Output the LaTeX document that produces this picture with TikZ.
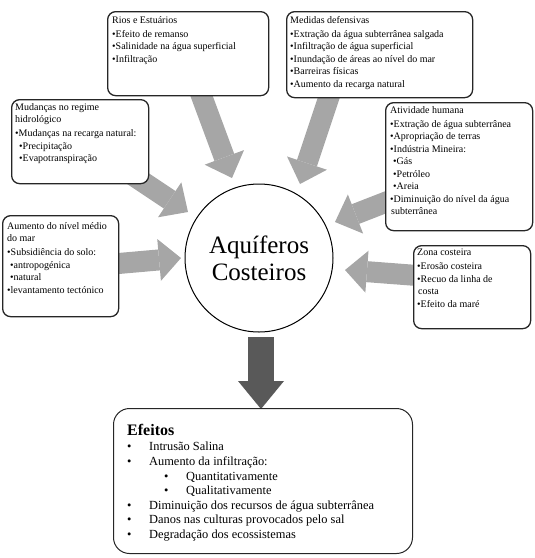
\documentclass[tikz,border=0pt]{standalone}
\usepackage{fontspec}
\setmainfont{Liberation Serif}
\usetikzlibrary{arrows.meta}
\definecolor{arrgray}{HTML}{A6A6A6}
\definecolor{darkarr}{HTML}{595959}
\definecolor{boxline}{HTML}{262626}
\newcommand\bul{\textbullet}
\begin{document}
\begin{tikzpicture}[x=1pt,y=-1pt,
  box/.style={draw=boxline, line width=1.3pt, rounded corners=8pt, fill=white, anchor=north west, inner sep=0pt},
  boxtext/.style={anchor=north west, inner sep=0pt, align=left, font=\fontsize{10}{12.5}\selectfont},
  grayarrow/.style={draw=arrgray, line width=21pt, -{Triangle[length=22pt,width=42pt,line width=0pt]}},
  darkarrow/.style={draw=darkarr, line width=26pt, -{Triangle[length=28pt,width=46pt,line width=0pt]}}]
\useasboundingbox (0,0) rectangle (535,558);
% arrow end points
\coordinate (riosA) at (196,81);   \coordinate (riosB) at (232,178);
\coordinate (medA) at (334,82);    \coordinate (medB) at (300,184);
\coordinate (mudA) at (110,160);   \coordinate (mudB) at (188,212);
\coordinate (aumA) at (90,266);    \coordinate (aumB) at (181,258);
\coordinate (ativA) at (430,185);  \coordinate (ativB) at (335,222);
\coordinate (zonaA) at (450,278);  \coordinate (zonaB) at (345,270);
\coordinate (efA) at (261,337);    \coordinate (efB) at (261,409);
% arrows
\draw[grayarrow] (riosA) -- (riosB);
\draw[grayarrow] (medA) -- (medB);
\draw[grayarrow] (mudA) -- (mudB);
\draw[grayarrow] (aumA) -- (aumB);
\draw[grayarrow] (ativA) -- (ativB);
\draw[grayarrow] (zonaA) -- (zonaB);
\draw[darkarrow] (efA) -- (efB);
% centre
\node[circle, draw=black, line width=1pt, fill=white, minimum size=148pt, inner sep=0pt,
      align=center, font=\fontsize{25}{27}\selectfont] (aq) at (259,258) {Aquíferos\\Costeiros};
% boxes
\node[box, minimum width=161pt, minimum height=84pt] (rios) at (107,11) {};
\node[boxtext] (riost) at (112,16) {Rios e Estuários\\[1.5pt]
  \bul{}Efeito de remanso\\\bul{}Salinidade na água superficial\\\bul{}Infiltração};
\node[box, minimum width=186pt, minimum height=86pt] (med) at (286,11) {};
\node[boxtext] (medt) at (290,16) {Medidas defensivas\\[1.5pt]
  \bul{}Extração da água subterrânea salgada\\\bul{}Infiltração de água superficial\\
  \bul{}Inundação de áreas ao nível do mar\\\bul{}Barreiras físicas\\\bul{}Aumento da recarga natural};
\node[box, minimum width=137pt, minimum height=84pt] (mud) at (11,99) {};
\node[boxtext] (mudt) at (15,103) {Mudanças no regime\\hidrológico\\[1.5pt]
  \bul{}Mudanças na recarga natural:\\\hspace*{4pt}\bul{}Precipitação\\\hspace*{4pt}\bul{}Evapotranspiração};
\node[box, minimum width=147pt, minimum height=128pt] (ativ) at (385,102) {};
\node[boxtext] (ativt) at (390,106) {Atividade humana\\[1.5pt]
  \bul{}Extração de água subterrânea\\\bul{}Apropriação de terras\\\bul{}Indústria Mineira:\\
  \hspace*{3pt}\bul{}Gás\\\hspace*{3pt}\bul{}Petróleo\\\hspace*{3pt}\bul{}Areia\\
  \bul{}Diminuição do nível da água\\\hspace*{1pt}subterrânea};
\node[box, minimum width=116pt, minimum height=101pt] (aum) at (2,215) {};
\node[boxtext] (aumt) at (7,222) {Aumento do nível médio\\do mar\\[1.5pt]
  \bul{}Subsidiência do solo:\\\hspace*{3pt}\bul{}antropogénica\\\hspace*{3pt}\bul{}natural\\
  \bul{}levantamento tectónico};
\node[box, minimum width=117pt, minimum height=83pt] (zona) at (413,245) {};
\node[boxtext] (zonat) at (417,249) {Zona costeira\\[1.5pt]
  \bul{}Erosão costeira\\\bul{}Recuo da linha de\\\hspace*{1pt}costa\\\bul{}Efeito da maré};
\node[box, line width=1pt, rounded corners=16pt, minimum width=299pt, minimum height=145pt] (ef) at (113,408) {};
\node[anchor=north west, inner sep=0pt, font=\fontsize{16}{18}\bfseries\selectfont] (eft) at (127,424) {Efeitos};
\node[anchor=north west, inner sep=0pt, align=left, font=\fontsize{12.4}{14.6}\selectfont] (efl) at (127,442) {%
  \makebox[22pt][l]{\bul}Intrusão Salina\\
  \makebox[22pt][l]{\bul}Aumento da infiltração:\\
  \hspace*{37pt}\makebox[22pt][l]{\bul}Quantitativamente\\
  \hspace*{37pt}\makebox[22pt][l]{\bul}Qualitativamente\\
  \makebox[22pt][l]{\bul}Diminuição dos recursos de água subterrânea\\
  \makebox[22pt][l]{\bul}Danos nas culturas provocados pelo sal\\
  \makebox[22pt][l]{\bul}Degradação dos ecossistemas};
\end{tikzpicture}
\end{document}
